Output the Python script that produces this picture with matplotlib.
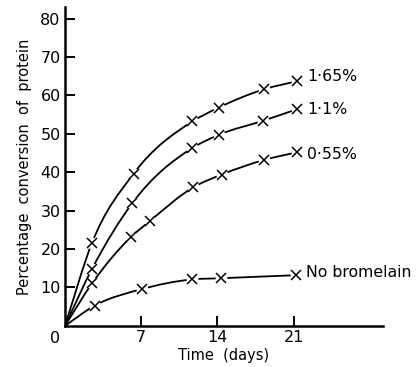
import matplotlib
matplotlib.use("Agg")
import matplotlib.pyplot as plt
from matplotlib.path import Path
from matplotlib.patches import PathPatch

# values (days, % conversion)
days_165 = [2.5, 6.3, 11.7, 14.1, 18.3, 21.3]
conv_165 = [21.7, 39.6, 53.2, 56.8, 61.6, 63.7]

days_11 = [2.5, 6.2, 11.7, 14.1, 18.2, 21.3]
conv_11 = [14.9, 32.0, 46.3, 49.7, 53.4, 56.4]

days_055 = [2.5, 6.05, 7.8, 11.8, 14.4, 18.3, 21.3]
conv_055 = [11.1, 23.1, 27.3, 36.1, 39.4, 43.2, 45.2]

days_none = [2.75, 7.1, 11.7, 14.3, 21.2]
conv_none = [5.3, 9.6, 12.1, 12.4, 13.2]

labels = ["1\u00b765%", "1\u00b71%", "0\u00b755%", "No bromelain"]
label_y = [64.8, 56.2, 44.5, 14.0]

series = [(days_165, conv_165), (days_11, conv_11),
          (days_055, conv_055), (days_none, conv_none)]

xticks = [7, 14, 21]
yticks = [10, 20, 30, 40, 50, 60, 70, 80]


def smooth_path(xs, ys):
    # hermite curve through origin and the points, drawn as bezier segments
    x = [0.0] + list(xs)
    y = [0.0] + list(ys)
    n = len(x)
    h = [x[i + 1] - x[i] for i in range(n - 1)]
    d = [(y[i + 1] - y[i]) / h[i] for i in range(n - 1)]
    m = [d[0]]
    for i in range(1, n - 1):
        m.append((h[i] * d[i - 1] + h[i - 1] * d[i]) / (h[i - 1] + h[i]))
    m.append(d[-1])
    verts = [(x[0], y[0])]
    codes = [Path.MOVETO]
    for i in range(n - 1):
        t = h[i] / 3
        verts += [(x[i] + t, y[i] + m[i] * t),
                  (x[i + 1] - t, y[i + 1] - m[i + 1] * t),
                  (x[i + 1], y[i + 1])]
        codes += [Path.CURVE4] * 3
    return Path(verts, codes)


fig = plt.figure(figsize=(4.16, 3.67), dpi=100)
ax = fig.add_axes([0.156, 0.112, 0.765, 0.869])

for xs, ys in series:
    ax.add_patch(PathPatch(smooth_path(xs, ys), fill=False,
                           edgecolor="black", lw=1.3, zorder=2))
for xs, ys in series:
    ax.plot(xs, ys, ls="none", marker="o", ms=8.5, mfc="white",
            mec="none", zorder=3)
for xs, ys in series:
    ax.plot(xs, ys, ls="none", marker="x", ms=7.5, mew=1.1,
            color="black", zorder=4)

for (xs, ys), lab, ly in zip(series, labels, label_y):
    ax.text(xs[-1] + 0.9, ly, lab, fontsize=11.3, va="center", ha="left")

ax.set_xlim(0, 29.2)
ax.set_ylim(0, 83)
ax.spines["top"].set_visible(False)
ax.spines["right"].set_visible(False)
for s in ("left", "bottom"):
    ax.spines[s].set_linewidth(1.8)

ax.set_xticks(xticks)
ax.set_xticklabels([str(t) for t in xticks])
ax.set_yticks(yticks)
ax.tick_params(direction="in", length=7, width=1.4, labelsize=11.5, pad=3)
ax.annotate("0", xy=(0, 0), xytext=(-7, -4), textcoords="offset points",
            ha="center", va="top", fontsize=11.5)

ax.set_xlabel("Time  (days)", fontsize=10.5, labelpad=2)
ax.set_ylabel("Percentage  conversion  of  protein", fontsize=10.5, labelpad=6)

fig.savefig("out.png", dpi=100)
